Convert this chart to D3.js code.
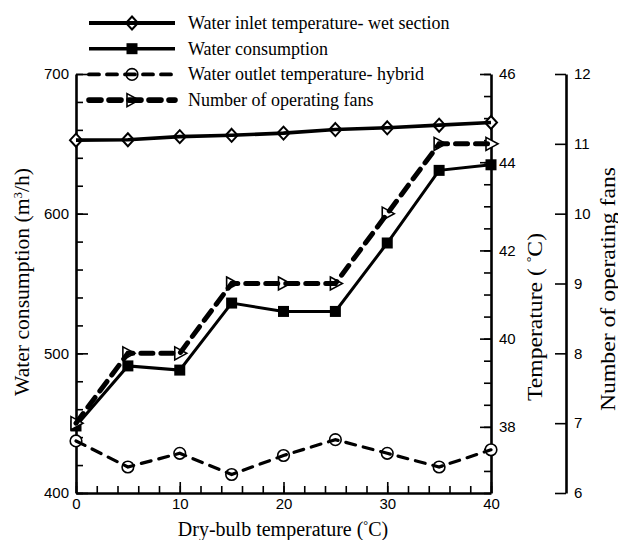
<!DOCTYPE html>
<html>
  <head>
    <meta charset="utf-8">
    <title>Water consumption vs dry-bulb temperature</title>
    <script src="https://d3js.org/d3.v7.min.js"></script>
    <style>
      body { margin: 0; background: #fff; }
      svg { display: block; }
      .tick text { font-family: "Liberation Sans", Arial, sans-serif; font-size: 15px; fill: #000; }
      .domain { stroke: #000; stroke-width: 2.6px; }
      .tick line { stroke: #000; stroke-width: 1.6px; }
      .title, .legend text { font-family: "Liberation Serif", "Times New Roman", serif; fill: #000; }
    </style>
  </head>
  <body>
    <svg id="chart" width="618" height="540"></svg>
    <script>
      // chart data
      var dryBulb = [0, 5, 10, 15, 20, 25, 30, 35, 40];
      var inletTemp = [44.50, 44.51, 44.58, 44.61, 44.66, 44.74, 44.78, 44.84, 44.90];
      var consumption = [448, 491, 488, 536, 530, 530, 579, 631, 635];
      var outletTemp = [37.68, 37.09, 37.40, 36.92, 37.35, 37.71, 37.40, 37.09, 37.48];
      var fans = [7, 8, 8, 9, 9, 9, 10, 11, 11];
      var seriesNames = ["Water inlet temperature- wet section", "Water consumption",
                         "Water outlet temperature- hybrid", "Number of operating fans"];

      var svg = d3.select("#chart");

      // scales
      var x = d3.scaleLinear().domain([0, 40]).range([76, 491]);
      var yWater = d3.scaleLinear().domain([400, 700]).range([493, 74]);
      var yTemp = d3.scaleLinear().domain([36.5, 46]).range([493, 74]);
      var yFans = d3.scaleLinear().domain([6, 12]).range([493, 74]);

      // minor ticks first, then major axes on top
      svg.append("g").attr("transform", "translate(76,0)")
        .call(d3.axisLeft(yWater).tickValues(d3.range(400, 701, 20)).tickSize(-7).tickFormat(""))
        .select(".domain").remove();
      svg.append("g").attr("transform", "translate(0,493)")
        .call(d3.axisBottom(x).tickValues(d3.range(0, 41, 2)).tickSize(-7).tickFormat(""))
        .select(".domain").remove();
      svg.append("g").attr("transform", "translate(491,0)")
        .call(d3.axisRight(yTemp).tickValues(d3.range(36.5, 46.01, 0.5)).tickSize(-7).tickFormat(""))
        .select(".domain").remove();

      svg.append("g").attr("transform", "translate(76,0)")
        .call(d3.axisLeft(yWater).tickValues([400, 500, 600, 700]).tickSizeInner(-12).tickSizeOuter(0).tickPadding(7));
      svg.append("g").attr("transform", "translate(0,493)")
        .call(d3.axisBottom(x).tickValues([0, 10, 20, 30, 40]).tickSizeInner(-11).tickSizeOuter(0).tickPadding(5));
      svg.append("g").attr("transform", "translate(491,0)")
        .call(d3.axisRight(yTemp).tickValues([38, 40, 42, 44, 46]).tickSizeInner(-11).tickSizeOuter(0).tickPadding(8));
      svg.append("g").attr("transform", "translate(566,0)")
        .call(d3.axisRight(yFans).tickValues(d3.range(6, 13)).tickFormat(d3.format("d"))
          .tickSizeInner(-11).tickSizeOuter(0).tickPadding(8));

      // series styles
      var series = [
        { values: inletTemp, y: yTemp, width: 3.6, dash: null, marker: "diamond" },
        { values: consumption, y: yWater, width: 3, dash: null, marker: "square" },
        { values: outletTemp, y: yTemp, width: 3.2, dash: "10,8", marker: "circle" },
        { values: fans, y: yFans, width: 5, dash: "12,8", marker: "triangle" }
      ];

      function drawMarker(g, type, cx, cy) {
        if (type == "diamond") {
          g.append("path").attr("d", "M" + cx + "," + (cy - 6.5) + "L" + (cx + 6) + "," + cy + "L" + cx + "," + (cy + 6.5) + "L" + (cx - 6) + "," + cy + "Z")
            .attr("fill", "#fff").attr("stroke", "#000").attr("stroke-width", 2);
        } else if (type == "square") {
          g.append("rect").attr("x", cx - 5.5).attr("y", cy - 5.5).attr("width", 11).attr("height", 11).attr("fill", "#000");
        } else if (type == "circle") {
          g.append("circle").attr("cx", cx).attr("cy", cy).attr("r", 5.8)
            .attr("fill", "#fff").attr("stroke", "#000").attr("stroke-width", 1.6);
        } else {
          g.append("path").attr("d", "M" + (cx - 5) + "," + (cy - 6.5) + "L" + (cx + 7) + "," + cy + "L" + (cx - 5) + "," + (cy + 6.5) + "Z")
            .attr("fill", "#fff").attr("stroke", "#000").attr("stroke-width", 1.6);
        }
      }

      var plot = svg.append("g");
      series.forEach(function(s) {
        var g = plot.append("g");
        s.values.forEach(function(v, i) { drawMarker(g, s.marker, x(dryBulb[i]), s.y(v)); });
        var line = d3.line()
          .x(function(d, i) { return x(dryBulb[i]); })
          .y(function(d) { return s.y(d); });
        g.append("path")
          .datum(s.values)
          .attr("d", line)
          .attr("fill", "none")
          .attr("stroke", "#000")
          .attr("stroke-width", s.width)
          .attr("stroke-dasharray", s.dash)
          .attr("stroke-linecap", s.dash ? "round" : "butt");
      });

      // legend
      var legend = svg.append("g").attr("class", "legend");
      series.forEach(function(s, i) {
        var ly = 23 + i * 25.7;
        var row = legend.append("g");
        drawMarker(row, s.marker, 132, ly);
        row.append("line").attr("x1", 89).attr("x2", 175).attr("y1", ly).attr("y2", ly)
          .attr("stroke", "#000").attr("stroke-width", s.width + 0.6)
          .attr("stroke-dasharray", s.dash)
          .attr("stroke-linecap", s.dash ? "round" : "butt");
        row.append("text").attr("x", 188).attr("y", ly).attr("dy", "0.33em")
          .style("font-size", "18px").text(seriesNames[i]);
      });

      // axis titles
      var xt = svg.append("text").attr("class", "title").attr("x", 283).attr("y", 536)
        .attr("text-anchor", "middle").style("font-size", "20px");
      xt.append("tspan").text("Dry-bulb temperature (");
      xt.append("tspan").attr("dy", -7).style("font-size", "12px").text("°");
      xt.append("tspan").attr("dy", 7).text("C)");

      var lt = svg.append("text").attr("class", "title").attr("transform", "translate(22,282) rotate(-90)")
        .attr("text-anchor", "middle").attr("dy", "0.35em").style("font-size", "20px")
        .attr("textLength", 228).attr("lengthAdjust", "spacingAndGlyphs");
      lt.append("tspan").text("Water consumption (m");
      lt.append("tspan").attr("dy", -7).style("font-size", "12px").text("3");
      lt.append("tspan").attr("dy", 7).text("/h)");

      var tt = svg.append("text").attr("class", "title").attr("transform", "translate(535,317) rotate(-90)")
        .attr("text-anchor", "middle").attr("dy", "0.35em").style("font-size", "20px")
        .attr("textLength", 168).attr("lengthAdjust", "spacingAndGlyphs");
      tt.append("tspan").text("Temperature ( ");
      tt.append("tspan").attr("dy", -7).style("font-size", "12px").text("°");
      tt.append("tspan").attr("dy", 7).text("C)");

      svg.append("text").attr("class", "title").attr("transform", "translate(608,289) rotate(-90)")
        .attr("text-anchor", "middle").attr("dy", "0.35em").style("font-size", "20px")
        .attr("textLength", 244).attr("lengthAdjust", "spacingAndGlyphs")
        .text("Number of operating fans");
    </script>
  </body>
</html>
